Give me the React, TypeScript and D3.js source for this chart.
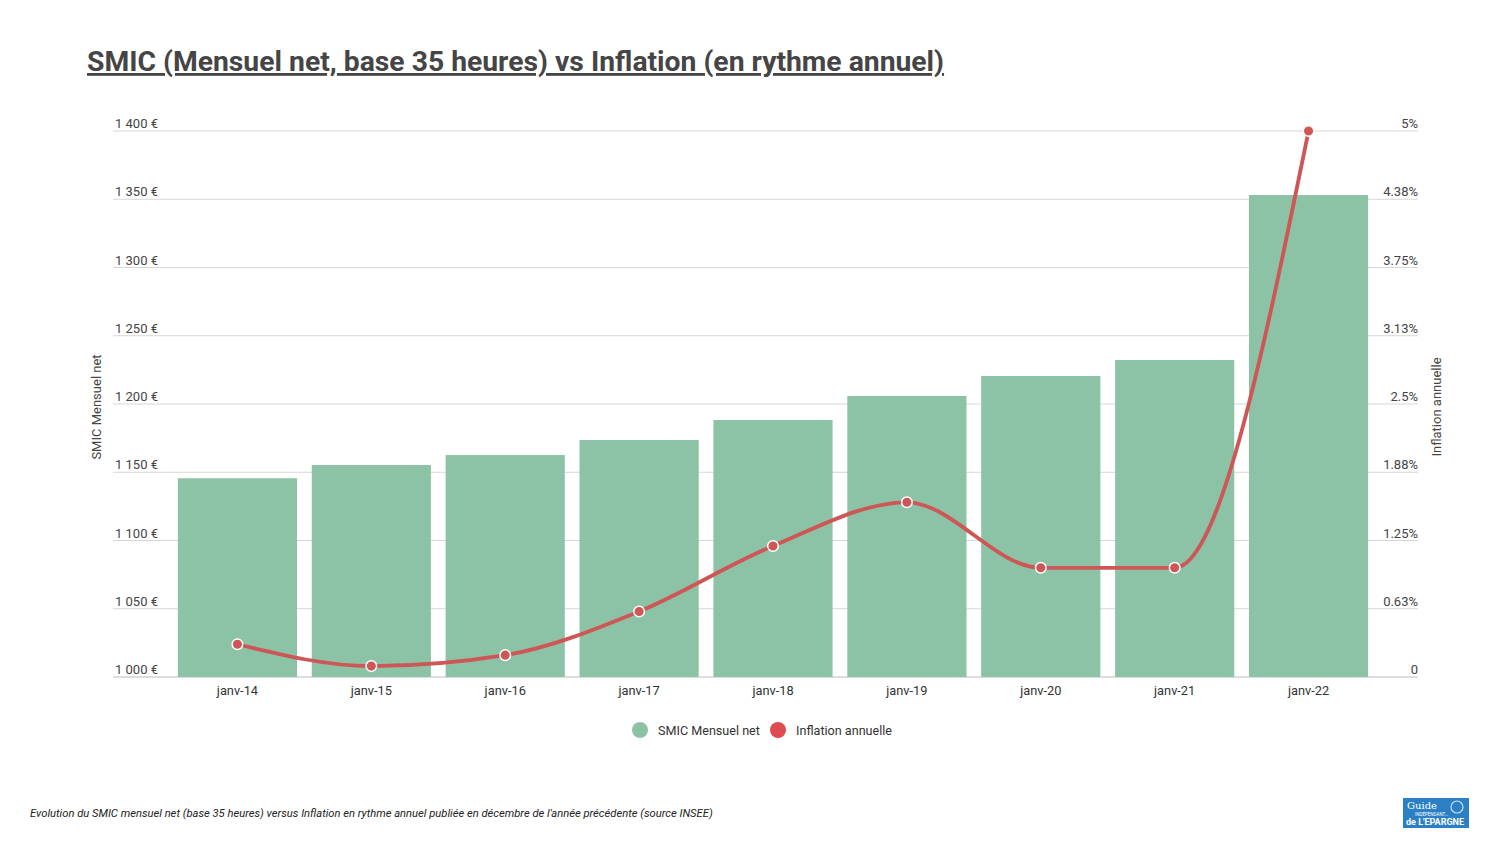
import React, { useEffect, useRef } from 'react';
import * as d3 from 'd3';

const categories = ['janv-14', 'janv-15', 'janv-16', 'janv-17', 'janv-18', 'janv-19', 'janv-20', 'janv-21', 'janv-22'];
const smicNet = [1145.6, 1155.3, 1162.6, 1173.6, 1188.3, 1205.9, 1220.5, 1232.2, 1353.1];
const inflation = [0.3, 0.1, 0.2, 0.6, 1.2, 1.6, 1.0, 1.0, 5.0];
const leftTicks = [1000, 1050, 1100, 1150, 1200, 1250, 1300, 1350, 1400];
const rightTicks = [0, 0.625, 1.25, 1.875, 2.5, 3.125, 3.75, 4.375, 5];
const rightTickLabels = ['0', '0.63%', '1.25%', '1.88%', '2.5%', '3.13%', '3.75%', '4.38%', '5%'];

const App: React.FC = () => {
  const ref = useRef<SVGSVGElement | null>(null);

  useEffect(() => {
    document.body.style.margin = '0';
    const W = 1500;
    const H = 844;
    const font = 'Roboto, "Noto Sans", sans-serif';
    const svg = d3.select(ref.current).attr('width', W).attr('height', H);
    svg.selectAll('*').remove();

    svg.append('rect').attr('width', W).attr('height', H).attr('fill', '#fff');

    const top = 131, bottom = 677;
    const gridLeft = 113, gridRight = 1418;

    const x = d3.scaleBand<string>()
      .domain(categories)
      .range([170.5, 1375.5])
      .paddingInner(0.11)
      .paddingOuter(0.055);
    const yL = d3.scaleLinear().domain([1000, 1400]).range([bottom, top]);
    const yR = d3.scaleLinear().domain([0, 5]).range([bottom, top]);

    // title
    svg.append('text')
      .attr('x', 87).attr('y', 71)
      .attr('font-family', font).attr('font-weight', 'bold').attr('font-size', 28.3)
      .attr('fill', '#454545')
      .attr('text-decoration', 'underline')
      .text('SMIC (Mensuel net, base 35 heures) vs Inflation (en rythme annuel)');

    // grid
    svg.append('g').selectAll('line')
      .data(leftTicks)
      .enter().append('line')
      .attr('x1', gridLeft).attr('x2', gridRight)
      .attr('y1', d => yL(d)).attr('y2', d => yL(d))
      .attr('stroke', d => (d === 1000 ? '#bbb' : '#d6d6d6'))
      .attr('stroke-width', 1);

    // left tick labels
    const fmt = (v: number) => d3.format(',')(v).replace(',', ' ') + ' €';
    svg.append('g').selectAll('text')
      .data(leftTicks)
      .enter().append('text')
      .attr('x', 115).attr('y', d => yL(d) - 3)
      .attr('font-family', font).attr('font-size', 13).attr('fill', '#444')
      .text(d => fmt(d));

    // right tick labels
    svg.append('g').selectAll('text')
      .data(rightTicks)
      .enter().append('text')
      .attr('x', 1418).attr('y', (d) => yR(d) - 3)
      .attr('text-anchor', 'end')
      .attr('font-family', font).attr('font-size', 13).attr('fill', '#444')
      .text((d, i) => rightTickLabels[i]);

    // axis titles
    svg.append('text')
      .attr('transform', `translate(101,${(top + bottom) / 2 + 3}) rotate(-90)`)
      .attr('text-anchor', 'middle')
      .attr('font-family', font).attr('font-size', 13).attr('fill', '#444')
      .text('SMIC Mensuel net');
    svg.append('text')
      .attr('transform', `translate(1441,${(top + bottom) / 2 + 3}) rotate(-90)`)
      .attr('text-anchor', 'middle')
      .attr('font-family', font).attr('font-size', 13).attr('fill', '#444')
      .text('Inflation annuelle');

    // bars
    svg.append('g').selectAll('rect')
      .data(smicNet)
      .enter().append('rect')
      .attr('x', (d, i) => x(categories[i]) as number)
      .attr('width', x.bandwidth())
      .attr('y', d => yL(d))
      .attr('height', d => bottom - yL(d))
      .attr('fill', '#8cc2a5');

    // x labels
    svg.append('g').selectAll('text')
      .data(categories)
      .enter().append('text')
      .attr('x', d => (x(d) as number) + x.bandwidth() / 2)
      .attr('y', 695)
      .attr('text-anchor', 'middle')
      .attr('font-family', font).attr('font-size', 12.8).attr('fill', '#333')
      .text(d => d);

    // inflation line
    const line = d3.line<number>()
      .x((d, i) => (x(categories[i]) as number) + x.bandwidth() / 2)
      .y(d => yR(d))
      .curve(d3.curveMonotoneX);
    svg.append('path')
      .datum(inflation)
      .attr('d', line)
      .attr('fill', 'none')
      .attr('stroke', '#cf5656')
      .attr('stroke-width', 3.8);

    svg.append('g').selectAll('circle')
      .data(inflation)
      .enter().append('circle')
      .attr('cx', (d, i) => (x(categories[i]) as number) + x.bandwidth() / 2)
      .attr('cy', d => yR(d))
      .attr('r', 5.3)
      .attr('fill', '#cf5656')
      .attr('stroke', '#fff')
      .attr('stroke-width', 1.5);

    // legend
    const legend = svg.append('g');
    const items = [
      { label: 'SMIC Mensuel net', color: '#8cc2a5', cx: 640 },
      { label: 'Inflation annuelle', color: '#dc4c50', cx: 778 },
    ];
    items.forEach(it => {
      legend.append('circle').attr('cx', it.cx).attr('cy', 730).attr('r', 8).attr('fill', it.color);
      legend.append('text')
        .attr('x', it.cx + 18).attr('y', 734.5)
        .attr('font-family', font).attr('font-size', 12.6).attr('fill', '#333')
        .text(it.label);
    });

    // footer
    svg.append('text')
      .attr('x', 30).attr('y', 817)
      .attr('font-family', font).attr('font-style', 'italic').attr('font-size', 11.2)
      .attr('fill', '#222')
      .text("Evolution du SMIC mensuel net (base 35 heures) versus Inflation en rythme annuel publiée en décembre de l'année précédente (source INSEE)");

    // logo
    const logo = svg.append('g').attr('transform', 'translate(1403,798)');
    logo.append('rect').attr('width', 66).attr('height', 30).attr('fill', '#2b7fc4');
    logo.append('circle').attr('cx', 54).attr('cy', 9).attr('r', 6).attr('fill', 'none').attr('stroke', '#bfe0f5').attr('stroke-width', 1.2);
    logo.append('text').attr('x', 4).attr('y', 11)
      .attr('font-family', '"DejaVu Serif", serif').attr('font-size', 10).attr('fill', '#fff').text('Guide');
    logo.append('text').attr('x', 12).attr('y', 18)
      .attr('font-family', font).attr('font-size', 4.5).attr('fill', '#fff').text('INDÉPENDANT...');
    logo.append('text').attr('x', 3).attr('y', 27)
      .attr('font-family', font).attr('font-weight', 'bold').attr('font-size', 9).attr('fill', '#fff').text("de L'EPARGNE");
  }, []);

  return <svg ref={ref}></svg>;
};

export default App;
